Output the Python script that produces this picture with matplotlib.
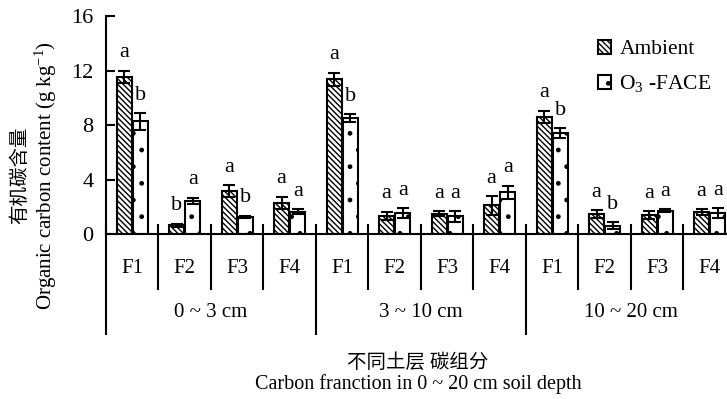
import matplotlib
matplotlib.use('Agg')
import matplotlib.pyplot as plt
import numpy as np
from matplotlib.patches import Patch

plt.rcParams['font.family'] = ['Liberation Serif', 'Noto Sans CJK SC']
plt.rcParams['mathtext.fontset'] = 'custom'
plt.rcParams['mathtext.rm'] = 'Liberation Serif'
plt.rcParams['mathtext.it'] = 'Liberation Serif:italic'
plt.rcParams['hatch.linewidth'] = 1.0

# data (g kg-1)
depths = ['0 ~ 3 cm', '3 ~ 10 cm', '10 ~ 20 cm']
fractions = ['F1', 'F2', 'F3', 'F4']
ambient = [11.55, 0.65, 3.15, 2.28, 11.35, 1.35, 1.5, 2.1, 8.6, 1.45, 1.4, 1.6]
ambient_err = [0.45, 0.12, 0.45, 0.45, 0.5, 0.3, 0.2, 0.7, 0.45, 0.3, 0.3, 0.2]
face = [8.27, 2.45, 1.25, 1.64, 8.52, 1.55, 1.3, 3.05, 7.4, 0.6, 1.7, 1.55]
face_err = [0.6, 0.22, 0.1, 0.2, 0.3, 0.35, 0.4, 0.5, 0.35, 0.25, 0.1, 0.35]
ambient_sig = ['a', 'b', 'a', 'a', 'a', 'a', 'a', 'a', 'a', 'a', 'a', 'a']
face_sig = ['b', 'a', 'b', 'a', 'b', 'a', 'a', 'a', 'b', 'b', 'a', 'a']

fig = plt.figure(figsize=(7.27, 3.99), dpi=100)
ax = fig.add_axes([0.1458, 0.4135, 0.8542, 0.5464])

x = np.arange(len(ambient)) + 0.5
w = 0.285
off = 0.155
amb_hatch = '\\' * 6
ekw = dict(ecolor='black', elinewidth=1.5, capsize=4, capthick=1.5)
ax.bar(x - off, ambient, w, yerr=ambient_err, color='white', edgecolor='black',
       hatch=amb_hatch, linewidth=1.5, error_kw=ekw)
ax.bar(x + off, face, w, yerr=face_err, color='white', edgecolor='black',
       hatch='.', linewidth=1.5, error_kw=ekw)

# significance letters
for xs, vals, errs, sig in [(x - off, ambient, ambient_err, ambient_sig),
                            (x + off, face, face_err, face_sig)]:
    for xi, v, e, s in zip(xs, vals, errs, sig):
        ax.annotate(s, (xi, v + e), xytext=(0, 6), textcoords='offset points',
                    ha='center', va='bottom', fontsize=16)

ax.set_xlim(0, 11.83)
ax.set_ylim(0, 16)
ax.set_yticks([0, 4, 8, 12, 16])
ax.set_xticks([])
ax.tick_params(axis='y', direction='in', length=6.5, width=1.5, pad=9, labelsize=16)
for s in ['top', 'right']:
    ax.spines[s].set_visible(False)
for s in ['left', 'bottom']:
    ax.spines[s].set_linewidth(1.5)

# category dividers below the axis
tr = ax.get_xaxis_transform()
for i in range(13):
    bottom = -0.463 if i % 4 == 0 else -0.257
    ax.plot([i, i], [0.046, bottom], color='black', lw=1.5, transform=tr,
            clip_on=False, solid_capstyle='butt')
for i in range(len(ambient)):
    ax.text(x[i], -0.156, fractions[i % 4], transform=tr, ha='center',
            va='center', fontsize=15)
for j, d in enumerate(depths):
    ax.text(4 * j + 2, -0.362, d, transform=tr, ha='center', va='center',
            fontsize=15)

fig.text(0.575, 1 - 363 / 399, '不同土层 碳组分', ha='center', va='center',
         fontsize=14)
fig.text(0.575, 1 - 384 / 399, 'Carbon franction in 0 ~ 20 cm soil depth',
         ha='center', va='center', fontsize=14.5)
fig.text(20 / 727, 0.561, '有机碳含量', rotation=90, ha='center', va='center',
         fontsize=14)
fig.text(46 / 727, 0.561, 'Organic carbon content (g kg$^{-1}$)', rotation=90,
         ha='center', va='center', fontsize=15)

handles = [Patch(facecolor='white', edgecolor='black', hatch=amb_hatch, lw=1.5),
           Patch(facecolor='white', edgecolor='black', hatch='.', lw=1.5)]
ax.legend(handles, ['Ambient', 'O$_3$ -FACE'], loc='upper left',
          bbox_to_anchor=(0.792, 0.89), frameon=False, fontsize=15.5,
          handlelength=0.6, handleheight=0.6, handletextpad=0.4,
          labelspacing=0.65, borderpad=0, borderaxespad=0)

fig.savefig('out.png', dpi=100)
